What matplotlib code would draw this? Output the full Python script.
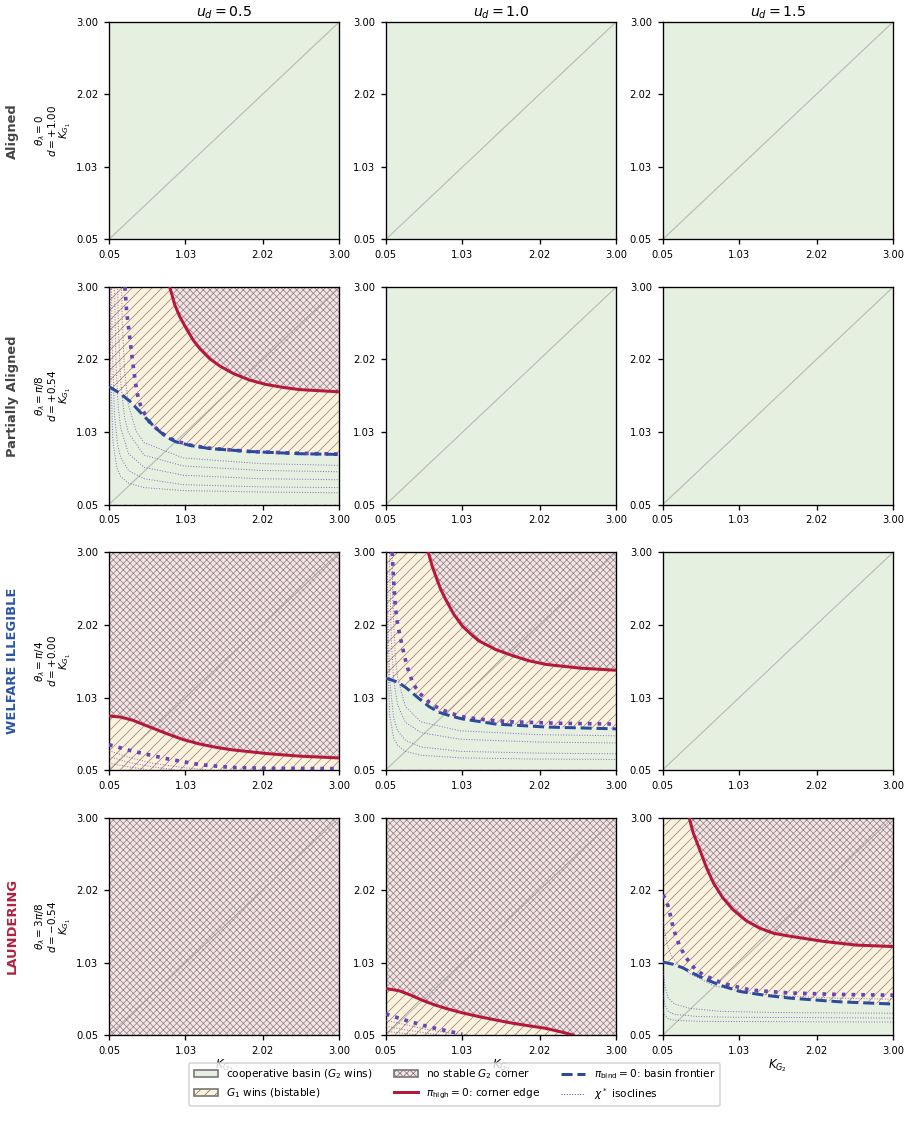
import numpy as np
import matplotlib
matplotlib.use('Agg')
import matplotlib.pyplot as plt
from matplotlib.patches import Patch
from matplotlib.lines import Line2D

# grid of panels: columns are u_d, rows are the alignment regimes
U_D = [0.5, 1.0, 1.5]
ROW_NAMES = ['Aligned', 'Partially Aligned', 'WELFARE ILLEGIBLE', 'LAUNDERING']
ROW_COLORS = ['#444444', '#444444', '#2a55a5', '#b5203f']
THETA = ['0', r'\pi/8', r'\pi/4', r'3\pi/8']
D_VALS = [1.00, 0.54, 0.00, -0.54]
TICKS = [0.05, 1.03, 2.02, 3.00]
TICK_LABELS = ['0.05', '1.03', '2.02', '3.00']

KIND = [['green', 'green', 'green'],
        ['mixed', 'green', 'green'],
        ['mixed', 'mixed', 'green'],
        ['pink', 'mixed', 'mixed']]

# curves, (K_G2, K_G1) points
# Partially aligned, u_d = 0.5
PA05_RED = [(0.829, 3.00), (0.893, 2.76), (0.957, 2.60), (1.04, 2.44), (1.13, 2.28),
            (1.21, 2.17), (1.34, 2.03), (1.47, 1.93), (1.64, 1.83), (1.85, 1.74),
            (2.06, 1.68), (2.28, 1.64), (2.49, 1.61), (2.74, 1.595), (3.00, 1.58)]
PA05_BIND = [(0.05, 1.65), (0.19, 1.56), (0.32, 1.45), (0.49, 1.26), (0.60, 1.14),
             (0.70, 1.04), (0.80, 0.96), (0.91, 0.90), (1.10, 0.85), (1.34, 0.81),
             (1.85, 0.77), (2.49, 0.74), (3.00, 0.73)]
PA05_CHI = [(0.254, 3.00), (0.276, 2.67), (0.305, 2.42), (0.34, 2.10), (0.37, 1.85),
            (0.40, 1.63), (0.43, 1.47), (0.47, 1.35), (0.57, 1.17), (0.70, 1.04),
            (0.80, 0.965), (0.91, 0.91), (1.10, 0.855), (1.34, 0.815), (1.85, 0.77),
            (2.49, 0.745), (3.00, 0.735)]
PA05_ISO = [
    [(0.06, 3.7), (0.07, 1.95), (0.10, 0.90), (0.15, 0.55), (0.20, 0.43), (0.30, 0.34),
     (0.50, 0.28), (1.0, 0.24), (2.0, 0.22), (3.0, 0.21)],
    [(0.08, 3.26), (0.09, 2.26), (0.12, 1.26), (0.16, 0.86), (0.20, 0.69), (0.30, 0.51),
     (0.50, 0.40), (1.0, 0.32), (2.0, 0.29), (3.0, 0.28)],
    [(0.12, 3.03), (0.14, 1.96), (0.17, 1.36), (0.20, 1.09), (0.30, 0.74), (0.50, 0.555),
     (1.0, 0.448), (2.0, 0.40), (3.0, 0.387)],
    [(0.155, 3.3), (0.17, 2.46), (0.20, 1.71), (0.25, 1.23), (0.30, 1.02), (0.50, 0.72),
     (1.0, 0.574), (2.0, 0.513), (3.0, 0.495)],
    [(0.20, 3.54), (0.22, 2.54), (0.25, 1.87), (0.30, 1.40), (0.40, 1.04), (0.50, 0.89),
     (1.0, 0.683), (2.0, 0.605), (3.0, 0.582)],
]

# Welfare illegible, u_d = 0.5
WI05_RED = [(0.05, 0.78), (0.20, 0.765), (0.36, 0.72), (0.55, 0.64), (0.79, 0.54),
            (1.00, 0.46), (1.21, 0.40), (1.42, 0.355), (1.63, 0.32), (2.07, 0.27),
            (2.49, 0.235), (3.00, 0.21)]
WI05_CHI = [(0.05, 0.39), (0.36, 0.30), (0.79, 0.20), (1.21, 0.12), (1.63, 0.08),
            (2.07, 0.07), (3.00, 0.065)]
WI05_ISO = [
    [(0.05, 0.31), (0.30, 0.22), (0.60, 0.14), (1.0, 0.08), (1.3, 0.05)],
    [(0.05, 0.23), (0.30, 0.15), (0.60, 0.09), (0.9, 0.05)],
    [(0.05, 0.14), (0.30, 0.09), (0.55, 0.05)],
]

# Welfare illegible, u_d = 1.0
WI10_RED = [(0.593, 3.00), (0.644, 2.81), (0.688, 2.68), (0.752, 2.50), (0.816, 2.36),
            (0.92, 2.16), (1.03, 2.00), (1.14, 1.89), (1.24, 1.80), (1.46, 1.68),
            (1.67, 1.60), (1.88, 1.53), (2.10, 1.48), (2.53, 1.43), (3.00, 1.40)]
WI10_BIND = [(0.05, 1.29), (0.088, 1.28), (0.20, 1.24), (0.30, 1.17), (0.38, 1.10),
             (0.47, 1.02), (0.60, 0.91), (0.73, 0.83), (0.88, 0.78), (1.03, 0.74),
             (1.46, 0.67), (2.10, 0.63), (3.00, 0.605)]
WI10_CHI = [(0.13, 3.00), (0.15, 2.60), (0.17, 2.27), (0.20, 2.02), (0.24, 1.82),
            (0.29, 1.58), (0.345, 1.37), (0.40, 1.22), (0.47, 1.10), (0.60, 0.97),
            (0.73, 0.88), (0.90, 0.81), (1.07, 0.76), (1.35, 0.725), (1.67, 0.70),
            (2.30, 0.68), (3.00, 0.67)]
WI10_ISO = [
    [(0.06, 3.18), (0.07, 1.68), (0.10, 0.78), (0.15, 0.48), (0.20, 0.38), (0.30, 0.30),
     (0.50, 0.247), (1.0, 0.212), (2.0, 0.195), (3.0, 0.19)],
    [(0.07, 2.75), (0.08, 1.92), (0.10, 1.25), (0.15, 0.75), (0.20, 0.58), (0.30, 0.45),
     (0.50, 0.36), (1.0, 0.30), (2.0, 0.276), (3.0, 0.267)],
    [(0.09, 3.89), (0.10, 2.72), (0.12, 1.79), (0.15, 1.265), (0.20, 0.93), (0.30, 0.694),
     (0.50, 0.553), (1.0, 0.465), (2.0, 0.426), (3.0, 0.414)],
    [(0.115, 4.08), (0.12, 3.48), (0.14, 2.28), (0.17, 1.605), (0.20, 1.30), (0.30, 0.909),
     (0.50, 0.70), (1.0, 0.579), (2.0, 0.527), (3.0, 0.511)],
]

# Laundering, u_d = 1.0
LA10_RED = [(0.05, 0.68), (0.22, 0.65), (0.37, 0.59), (0.52, 0.52), (0.67, 0.46),
            (0.82, 0.41), (1.03, 0.35), (1.24, 0.30), (1.45, 0.255), (1.67, 0.21),
            (1.88, 0.175), (2.10, 0.14), (2.30, 0.09), (2.45, 0.05)]
LA10_CHI = [(0.05, 0.335), (0.30, 0.25), (0.60, 0.16), (1.03, 0.06)]
LA10_ISO = [
    [(0.05, 0.25), (0.30, 0.19), (0.60, 0.12), (0.9, 0.07), (1.1, 0.05)],
    [(0.05, 0.17), (0.30, 0.12), (0.60, 0.07), (0.75, 0.05)],
    [(0.05, 0.10), (0.30, 0.07), (0.45, 0.05)],
]

# Laundering, u_d = 1.5
LA15_RED = [(0.387, 3.00), (0.44, 2.79), (0.525, 2.56), (0.61, 2.32), (0.70, 2.11),
            (0.82, 1.91), (0.95, 1.75), (1.12, 1.60), (1.29, 1.50), (1.47, 1.43),
            (1.68, 1.39), (2.11, 1.32), (2.53, 1.27), (3.00, 1.25)]
LA15_BIND = [(0.05, 1.04), (0.18, 1.01), (0.31, 0.96), (0.45, 0.88), (0.61, 0.80),
             (0.80, 0.72), (1.04, 0.64), (1.35, 0.59), (1.68, 0.55), (2.32, 0.50),
             (3.00, 0.47)]
LA15_CHI = [(0.05, 1.95), (0.085, 1.90), (0.12, 1.79), (0.15, 1.66), (0.18, 1.52),
            (0.22, 1.38), (0.27, 1.25), (0.33, 1.13), (0.40, 1.02), (0.48, 0.93),
            (0.57, 0.865), (0.82, 0.75), (1.17, 0.66), (1.68, 0.62), (2.3, 0.60),
            (3.00, 0.59)]
LA15_ISO = [
    [(0.05, 1.62), (0.10, 1.30), (0.16, 1.12), (0.25, 1.00), (0.40, 0.88), (0.70, 0.72),
     (1.17, 0.62), (1.68, 0.575), (2.3, 0.55), (3.0, 0.535)],
    [(0.05, 0.95), (0.08, 0.70), (0.12, 0.55), (0.20, 0.47), (0.40, 0.41), (0.80, 0.37),
     (1.5, 0.355), (3.0, 0.345)],
    [(0.05, 0.62), (0.08, 0.45), (0.12, 0.37), (0.20, 0.33), (0.50, 0.30), (1.0, 0.29),
     (3.0, 0.28)],
    [(0.05, 0.40), (0.08, 0.31), (0.12, 0.27), (0.20, 0.25), (0.50, 0.235), (3.0, 0.225)],
]

MIXED = {
    (1, 0): dict(red=PA05_RED, bind=PA05_BIND, chi=PA05_CHI, iso=PA05_ISO),
    (2, 0): dict(red=WI05_RED, bind=None, chi=WI05_CHI, iso=WI05_ISO),
    (2, 1): dict(red=WI10_RED, bind=WI10_BIND, chi=WI10_CHI, iso=WI10_ISO),
    (3, 1): dict(red=LA10_RED, bind=None, chi=LA10_CHI, iso=LA10_ISO),
    (3, 2): dict(red=LA15_RED, bind=LA15_BIND, chi=LA15_CHI, iso=LA15_ISO),
}

GREEN = '#e6f0e1'
YELLOW = '#fcf2dc'
PINK = '#f9e2e4'
HATCH = '#8a8a8a'
RED = '#b5183b'
BLUE = '#2b4b9b'
PURPLE = '#6a44b0'
LO, HI = 0.05, 3.0
DIAG_HATCH = '////'
CROSS_HATCH = 'xxxxxx'

plt.rcParams['hatch.linewidth'] = 0.45
plt.rcParams['hatch.color'] = HATCH


def xy(points):
    arr = np.array(points)
    return arr[:, 0], arr[:, 1]


def draw_panel(ax, r, c):
    kind = KIND[r][c]
    if kind == 'green':
        ax.fill_between([LO, HI], LO, HI, facecolor=GREEN, lw=0, zorder=0)
    elif kind == 'pink':
        ax.fill_between([LO, HI], LO, HI, facecolor=PINK, edgecolor=HATCH,
                        hatch=CROSS_HATCH, lw=0, zorder=0)
    else:
        p = MIXED[(r, c)]
        ax.fill_between([LO, HI], LO, HI, facecolor=YELLOW, edgecolor=HATCH,
                        hatch=DIAG_HATCH, lw=0, zorder=0)
        if p['bind'] is not None:
            bx, by = xy(p['bind'])
            ax.fill_between(bx, LO, by, facecolor=GREEN, lw=0, zorder=1)
        rx, ry = xy(p['red'])
        fx, fy = rx, ry
        if rx[-1] < HI:  # red edge runs out through the bottom
            fx, fy = np.append(rx, HI), np.append(ry, LO)
        ax.fill_between(fx, fy, HI, facecolor=PINK, edgecolor=HATCH,
                        hatch=CROSS_HATCH, lw=0, zorder=1)
        for line in p['iso']:
            ix, iy = xy(line)
            ax.plot(ix, iy, ls=':', lw=0.6, color=PURPLE, alpha=0.75, zorder=3)
        cx, cy = xy(p['chi'])
        ax.plot(cx, cy, ls=':', lw=2.2, color=PURPLE, zorder=4)
        if p['bind'] is not None:
            ax.plot(bx, by, ls='--', lw=1.8, color=BLUE, zorder=5)
        ax.plot(rx, ry, ls='-', lw=1.8, color=RED, zorder=6)
    ax.plot([LO, HI], [LO, HI], color='#999999', lw=0.7, alpha=0.6, zorder=2)
    ax.set_xlim(LO, HI)
    ax.set_ylim(LO, HI)
    ax.set_xticks(TICKS)
    ax.set_xticklabels(TICK_LABELS)
    ax.set_yticks(TICKS)
    ax.set_yticklabels(TICK_LABELS)
    ax.tick_params(labelsize=6, length=3)


fig, axes = plt.subplots(4, 3, figsize=(909 / 120, 1143 / 120), dpi=120)
fig.subplots_adjust(left=0.1199, right=0.9824, top=0.9808, bottom=0.0945,
                    wspace=0.203, hspace=0.22)

for r in range(4):
    for c in range(3):
        ax = axes[r, c]
        draw_panel(ax, r, c)
        if r == 0:
            ax.set_title(f'$u_d = {U_D[c]}$', fontsize=8.5, pad=3)
        if c == 0:
            ax.set_ylabel(f'$\\theta_\\lambda = {THETA[r]}$\n$d = {D_VALS[r]:+.2f}$\n$K_{{G_1}}$',
                          fontsize=6.2, labelpad=2, linespacing=0.95)
            ax.text(-0.42, 0.5, ROW_NAMES[r], transform=ax.transAxes, rotation=90,
                    ha='center', va='center', fontsize=7.8, fontweight='bold',
                    color=ROW_COLORS[r])
        if r == 3:
            ax.set_xlabel('$K_{G_2}$', fontsize=7, labelpad=1)

handles = [
    Patch(facecolor=GREEN, edgecolor='#777777', label='cooperative basin ($G_2$ wins)'),
    Patch(facecolor=YELLOW, edgecolor='#777777', hatch=DIAG_HATCH, label='$G_1$ wins (bistable)'),
    Patch(facecolor=PINK, edgecolor='#777777', hatch=CROSS_HATCH, label='no stable $G_2$ corner'),
    Line2D([], [], color=RED, lw=1.8, label=r'$\pi_{\rm high} = 0$: corner edge'),
    Line2D([], [], color=BLUE, lw=1.8, ls='--', label=r'$\pi_{\rm bind} = 0$: basin frontier'),
    Line2D([], [], color=PURPLE, lw=0.6, ls=':', label=r'$\chi^*$ isoclines'),
]
fig.legend(handles=handles, loc='upper center', bbox_to_anchor=(0.5, 0.0745),
           ncol=3, fontsize=6.3, frameon=True, handlelength=2.3)

fig.savefig('out.png', dpi=120)
